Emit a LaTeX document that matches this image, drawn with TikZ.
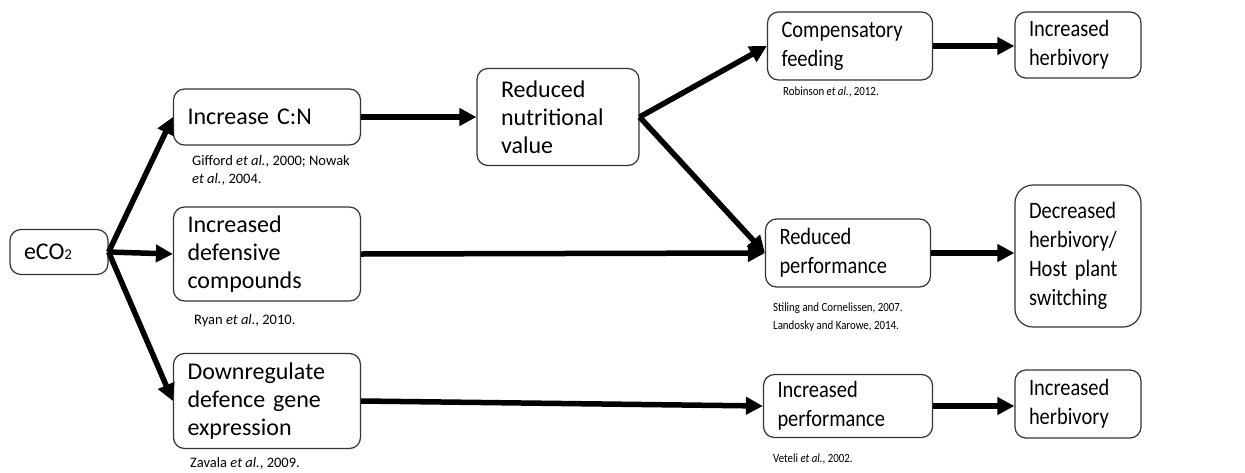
\documentclass[tikz,border=0pt]{standalone}
\usepackage{fontspec}
\setmainfont{Carlito}
\newfontfamily\condensed[FakeStretch=0.87]{Carlito}
\newcommand\boxfont{\fontsize{24}{28}\selectfont\spaceskip=0.16em\relax}
\newcommand\rboxfont{\condensed\fontsize{23.5}{29}\selectfont\spaceskip=0.16em\relax}
\usetikzlibrary{arrows.meta}
\tikzset{
	box/.style = {draw = black!80, line width = 1.2pt, rounded corners = 11pt, align = left, inner xsep = 14pt, inner ysep = 0pt, font = {\boxfont}},
	rbox/.style = {box, font = {\rboxfont}},
	cite/.style = {anchor = base west, inner sep = 0pt, align = left, font = \fontsize{14.5}{18}\selectfont},
	rcite/.style = {cite, font = \condensed\fontsize{12.5}{18}\selectfont},
	arr/.style = {line width = 5.5pt, -{Triangle[length = 17pt, width = 17pt]}}
}
\begin{document}
\begin{tikzpicture}[x = 1pt, y = -1pt]
			\useasboundingbox (0,0) rectangle (1245,472);
			\node[box, text width = 70pt, minimum height = 45pt] (eco2) at (59,252) {eCO{\fontsize{15}{15}\selectfont 2}};
			\node[box, text width = 159pt, minimum height = 56pt] (cn) at (267,117) {Increase C:N};
			\node[box, text width = 159pt, minimum height = 94pt] (defc) at (267,254) {Increased\\defensive\\compounds};
			\node[box, text width = 159pt, minimum height = 95pt] (down) at (267,401) {Downregulate\\defence gene\\expression};
			\node[box, inner xsep = 24pt, text width = 114pt, minimum height = 97pt] (nutr) at (558,117) {Reduced\\nutritional\\value};
			\node[rbox, text width = 137pt, minimum height = 68pt] (comp) at (850,46) {Compensatory\\feeding};
			\node[rbox, text width = 98pt, minimum height = 66pt] (herbup) at (1078,45) {Increased\\herbivory};
			\node[rbox, text width = 137pt, minimum height = 68pt] (redperf) at (848,253) {Reduced\\performance};
			\node[rbox, rounded corners = 18pt, text width = 98pt, minimum height = 142pt] (decr) at (1078,256) {Decreased\\herbivory/\\Host plant\\switching};
			\node[rbox, text width = 141pt, minimum height = 63pt] (incperf) at (848,406) {Increased\\performance};
			\node[rbox, text width = 98pt, minimum height = 68pt] (herbdown) at (1078,404) {Increased\\herbivory};
			\node[cite] (gifford) at (192,183) {Gifford \textit{et al.}, 2000; Nowak\\\textit{et al.}, 2004.};
			\node[cite] (ryan) at (194,324) {Ryan \textit{et al.}, 2010.};
			\node[cite] (zavala) at (190,467) {Zavala \textit{et al.}, 2009.};
			\node[rcite] (robinson) at (783,95) {Robinson \textit{et al.}, 2012.};
			\node[rcite] (stiling) at (773,329) {Stiling and Cornelissen, 2007.\\Landosky and Karowe, 2014.};
			\node[rcite] (veteli) at (773,462) {Veteli \textit{et al.}, 2002.};
			\draw[arr] (eco2.east)--(cn.west);
			\draw[arr] (eco2.east)--(defc.west);
			\draw[arr] (eco2.east)--(down.west);
			\draw[arr] (cn.east)--(nutr.west);
			\draw[arr] (nutr.east)--(comp.west);
			\draw[arr] (nutr.east)--(redperf.west);
			\draw[arr] (defc.east)--(redperf.west);
			\draw[arr] (down.east)--(incperf.west);
			\draw[arr] (comp.east)--(comp.east -| herbup.west);
			\draw[arr] (redperf.east)--(redperf.east -| decr.west);
			\draw[arr] (incperf.east)--(incperf.east -| herbdown.west);
		\end{tikzpicture}
\end{document}
